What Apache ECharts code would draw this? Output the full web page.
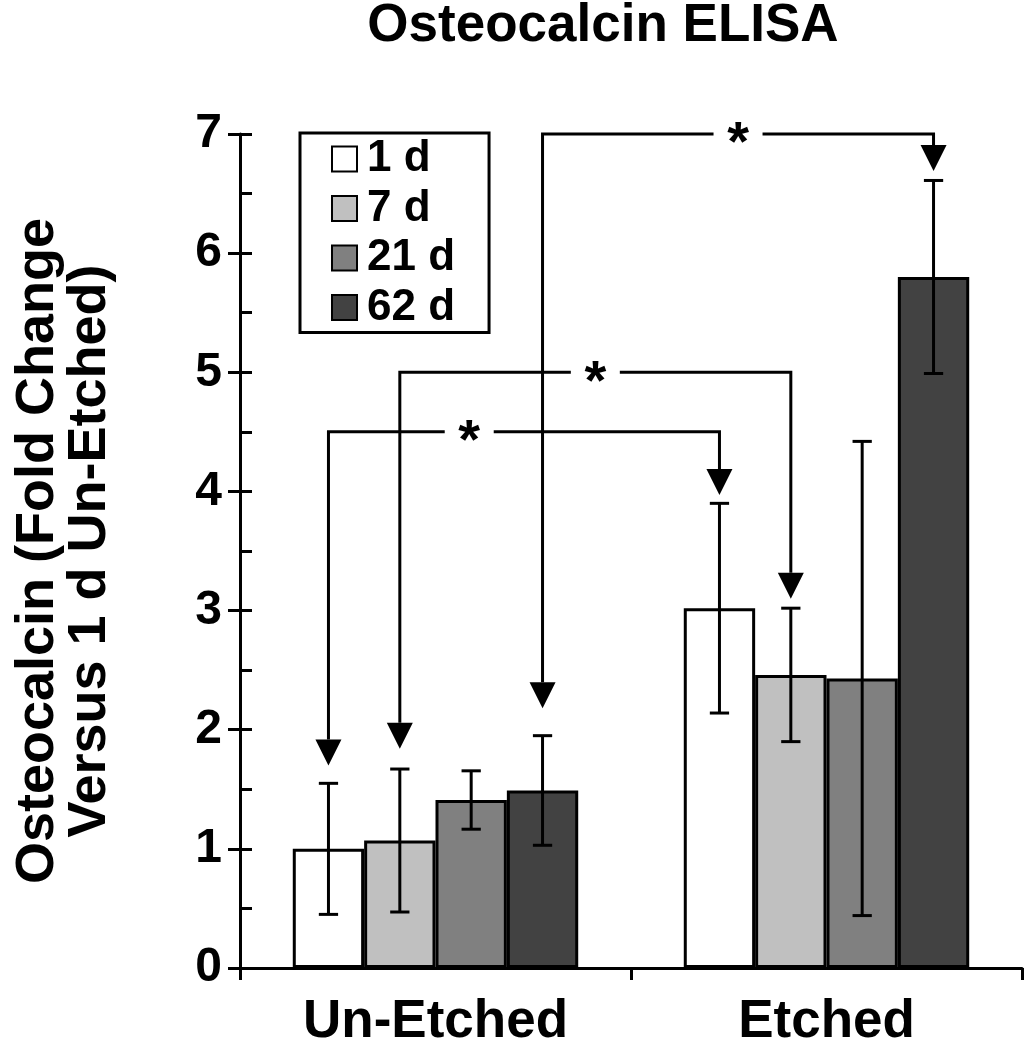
<!DOCTYPE html>
<html>
<head>
<meta charset="utf-8">
<script src="https://cdn.jsdelivr.net/npm/echarts@6/dist/echarts.min.js"></script>
<style>
  html, body { margin: 0; padding: 0; background: #fff; }
  #chart { width: 1024px; height: 1050px; }
</style>
</head>
<body>
<div id="chart"></div>
<script>
// categories + legend entries
const groups = ['Un-Etched', 'Etched'];
const days = ['1 d', '7 d', '21 d', '62 d'];

// mean fold change per group (Un-Etched, Etched)
const mean1d = [1.00, 3.02];
const mean7d = [1.07, 2.46];
const mean21d = [1.41, 2.43];
const mean62d = [1.49, 5.80];

// +/- error per group
const err1d = [0.55, 0.88];
const err7d = [0.60, 0.56];
const err21d = [0.245, 1.99];
const err62d = [0.46, 0.81];

// significance brackets: [group, day] at each end, bracket height, arrow tip values, star position
const bracketFrom = [[0, 0], [0, 1], [0, 3]];
const bracketTo = [[1, 0], [1, 1], [1, 3]];
const bracketLevel = [4.5, 5.0, 7.0];
const arrowTipFrom = [1.70, 1.84, 2.18];
const arrowTipTo = [3.97, 3.10, 6.69];
const starAt = [0.36, 0.5, 0.5];

const means = [mean1d, mean7d, mean21d, mean62d];
const errs = [err1d, err7d, err21d, err62d];
const colors = ['#ffffff', '#c0c0c0', '#808080', '#424242'];
const font = '"Liberation Sans", Arial, sans-serif';
const catGap = 0.27;

const chart = echarts.init(document.getElementById('chart'));

// x position of bar d inside category g
function barX(api, g, d) {
  const bandW = api.size([1, 0])[0];
  const barW = bandW * (1 - catGap) / 4;
  return { x: api.coord([g, 0])[0] + (d - 1.5) * barW, w: barW };
}

const errData = [];
errs.forEach((e, d) => {
  e.forEach((v, g) => errData.push([g, d, means[d][g], v]));
});

const bracketData = bracketLevel.map((lvl, i) => [
  bracketFrom[i][0], bracketFrom[i][1], bracketTo[i][0], bracketTo[i][1],
  lvl, arrowTipFrom[i], arrowTipTo[i], starAt[i],
]);

const lineStyle = { stroke: '#000', lineWidth: 3, fill: null };

function renderError(params, api) {
  const b = barX(api, api.value(0), api.value(1));
  const m = api.value(2), e = api.value(3);
  const yTop = api.coord([0, m + e])[1];
  const yBot = api.coord([0, m - e])[1];
  const cap = b.w * 0.135;
  return {
    type: 'group',
    children: [
      { type: 'line', shape: { x1: b.x, y1: yTop, x2: b.x, y2: yBot }, style: lineStyle },
      { type: 'line', shape: { x1: b.x - cap, y1: yTop, x2: b.x + cap, y2: yTop }, style: lineStyle },
      { type: 'line', shape: { x1: b.x - cap, y1: yBot, x2: b.x + cap, y2: yBot }, style: lineStyle },
    ],
  };
}

function renderBracket(params, api) {
  const x1 = barX(api, api.value(0), api.value(1)).x;
  const x2 = barX(api, api.value(2), api.value(3)).x;
  const yL = api.coord([0, api.value(4)])[1];
  const t1 = api.coord([0, api.value(5)])[1];
  const t2 = api.coord([0, api.value(6)])[1];
  const xs = x1 + (x2 - x1) * api.value(7);
  const head = 26, gap = 24.5;
  return {
    type: 'group',
    children: [
      { type: 'polyline', shape: { points: [[x1, t1 - head], [x1, yL], [xs - gap, yL]] }, style: lineStyle },
      { type: 'polyline', shape: { points: [[xs + gap, yL], [x2, yL], [x2, t2 - head]] }, style: lineStyle },
      { type: 'polygon', shape: { points: [[x1 - 13, t1 - head], [x1 + 13, t1 - head], [x1, t1]] }, style: { fill: '#000' } },
      { type: 'polygon', shape: { points: [[x2 - 13, t2 - head], [x2 + 13, t2 - head], [x2, t2]] }, style: { fill: '#000' } },
      {
        type: 'text',
        style: {
          text: '*', x: xs, y: yL + 11, align: 'center', verticalAlign: 'middle',
          font: 'bold 56px ' + font, fill: '#000',
        },
      },
    ],
  };
}

const barSeries = days.map((name, d) => ({
  name,
  type: 'bar',
  data: means[d],
  barGap: '0%',
  barCategoryGap: catGap * 100 + '%',
  itemStyle: { color: colors[d], borderColor: '#000', borderWidth: 3 },
  emphasis: { disabled: true },
}));

const option = {
  animation: false,
  backgroundColor: '#fff',
  textStyle: { fontFamily: font },
  title: {
    text: 'Osteocalcin ELISA',
    left: 598,
    top: -5,
    textAlign: 'center',
    textStyle: { fontSize: 53, fontWeight: 'bold', color: '#000', fontFamily: font },
  },
  legend: {
    data: days,
    orient: 'vertical',
    left: 300,
    top: 133,
    icon: 'rect',
    itemWidth: 25,
    itemHeight: 25,
    itemGap: 5.5,
    borderColor: '#000',
    borderWidth: 3,
    padding: [4, 34, 3, 31],
    itemStyle: { borderColor: '#000', borderWidth: 2 },
    textStyle: { fontSize: 44, fontWeight: 'bold', color: '#000', lineHeight: 44, padding: [0, 0, 0, 5], fontFamily: font },
  },
  grid: { left: 240, right: 2, top: 134, bottom: 82, containLabel: false, outerBoundsMode: 'none' },
  xAxis: {
    type: 'category',
    data: groups,
    axisLine: { lineStyle: { color: '#000', width: 3 } },
    axisTick: { show: true, length: 12, lineStyle: { color: '#000', width: 3 } },
    axisLabel: { margin: 28, fontSize: 53, fontWeight: 'bold', color: '#000', fontFamily: font },
  },
  yAxis: [
    {
      type: 'value',
      min: 0,
      max: 7,
      interval: 1,
      axisLine: { show: true, lineStyle: { color: '#000', width: 3 } },
      axisTick: { show: true, inside: false, length: 12, lineStyle: { color: '#000', width: 3 } },
      axisLabel: { margin: 18, fontSize: 48, fontWeight: 'bold', color: '#000', fontFamily: font },
      splitLine: { show: false },
      name: 'Osteocalcin (Fold Change\nVersus 1 d Un-Etched)',
      nameLocation: 'middle',
      nameRotate: 90,
      nameGap: 124,
      nameTextStyle: { fontSize: 54, fontWeight: 'bold', color: '#000', lineHeight: 52, fontFamily: font },
    },
    {
      // minor ticks every 0.5 drawn on the inside
      type: 'value',
      position: 'left',
      min: 0,
      max: 7,
      interval: 0.5,
      axisLine: { show: false },
      axisTick: { show: true, inside: true, length: 12, lineStyle: { color: '#000', width: 3 } },
      axisLabel: { show: false },
      splitLine: { show: false },
    },
  ],
  series: [
    ...barSeries,
    { type: 'custom', name: 'err', renderItem: renderError, data: errData, z: 3, silent: true },
    { type: 'custom', name: 'sig', renderItem: renderBracket, data: bracketData, z: 4, silent: true, clip: false },
  ],
};

chart.setOption(option);
</script>
</body>
</html>
